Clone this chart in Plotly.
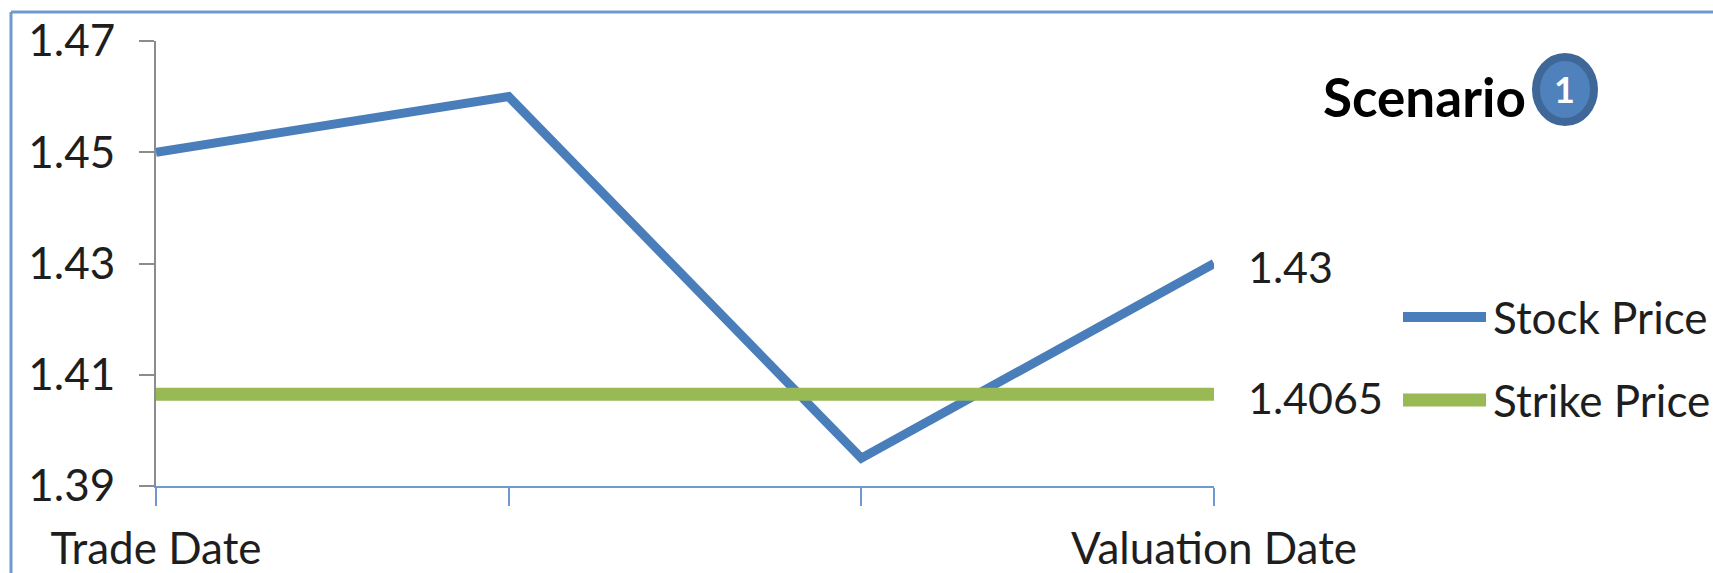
import plotly.graph_objects as go

W, H = 1713, 573
L, R, T, B = 156, 1214, 41, 486

positions = [0, 1, 2, 3]
x_labels = ["Trade Date", "", "", "Valuation Date"]
stock_price = [1.45, 1.46, 1.395, 1.43]
strike_price = [1.4065, 1.4065, 1.4065, 1.4065]
y_ticks = [1.39, 1.41, 1.43, 1.45, 1.47]
series_names = ["Stock Price", "Strike Price"]
title_text = "Scenario"
badge_text = "1"

BLUE = "#4A7EBB"
GREEN = "#98B954"
FRAME = "#6F9AD0"
INK = "#1E1E1E"
FONT = "Lato"
TEXT_SIZE = 44


def px(v):
    return (v - L) / (R - L)


def py(v):
    return (B - v) / (B - T)


fig = go.Figure()
fig.add_trace(go.Scatter(x=positions, y=stock_price, mode="lines", name=series_names[0],
                         line=dict(color=BLUE, width=9), cliponaxis=False))
fig.add_trace(go.Scatter(x=positions, y=strike_price, mode="lines", name=series_names[1],
                         line=dict(color=GREEN, width=13), cliponaxis=False))

shapes = [
    # outer chart frame, open towards the right and bottom edges
    dict(type="line", xref="paper", yref="paper", x0=px(11), x1=px(W), y0=py(12), y1=py(12),
         line=dict(color=FRAME, width=3)),
    dict(type="line", xref="paper", yref="paper", x0=px(11), x1=px(11), y0=py(12), y1=py(H),
         line=dict(color=FRAME, width=3)),
    # legend keys
    dict(type="line", xref="paper", yref="paper", x0=px(1403), x1=px(1486), y0=py(317), y1=py(317),
         line=dict(color=BLUE, width=10)),
    dict(type="line", xref="paper", yref="paper", x0=px(1403), x1=px(1486), y0=py(400), y1=py(400),
         line=dict(color=GREEN, width=13)),
    # numbered badge next to the heading
    dict(type="circle", xref="paper", yref="paper", x0=px(1536), x1=px(1594), y0=py(57), y1=py(122),
         fillcolor="#4F81BD", line=dict(color="#3F6797", width=8)),
]


def note(x, y, text, size=TEXT_SIZE, color=INK, xanchor="left"):
    return dict(xref="paper", yref="paper", x=px(x), y=py(y), text=text, showarrow=False,
                xanchor=xanchor, yanchor="middle", font=dict(size=size, color=color, family=FONT))


annotations = [
    dict(xref="x", yref="y", x=positions[-1], y=stock_price[-1], text=f"{stock_price[-1]:g}",
         showarrow=False, xanchor="left", yanchor="middle", xshift=32, yshift=-3,
         font=dict(size=43, color=INK, family=FONT)),
    dict(xref="x", yref="y", x=positions[-1], y=strike_price[-1], text=f"{strike_price[-1]:g}",
         showarrow=False, xanchor="left", yanchor="middle", xshift=32, yshift=-3,
         font=dict(size=43, color=INK, family=FONT)),
    note(1491, 317, series_names[0]),
    note(1491, 400, series_names[1]),
    note(1321, 97, f"<b>{title_text}</b>", size=53, color="#000000"),
    note(1564, 89, f"<b>{badge_text}</b>", size=36, color="#FFFFFF", xanchor="center"),
]

fig.update_layout(
    width=W, height=H, autosize=False,
    margin=dict(l=L, r=W - R, t=T, b=H - B, autoexpand=False),
    paper_bgcolor="white", plot_bgcolor="white",
    showlegend=False,
    shapes=shapes, annotations=annotations,
    font=dict(family=FONT, size=TEXT_SIZE, color=INK),
)
fig.update_xaxes(range=[0, 3], tickmode="array", tickvals=positions, ticktext=x_labels,
                 showgrid=False, zeroline=False, showline=True, linecolor=FRAME, linewidth=2,
                 ticks="outside", ticklen=18, tickwidth=2, tickcolor=FRAME, ticklabelstandoff=5)
fig.update_yaxes(range=[1.39, 1.47], tickmode="array", tickvals=y_ticks,
                 ticktext=[f"{v:.2f}" for v in y_ticks],
                 showgrid=False, zeroline=False, showline=True, linecolor="#8C8C8C", linewidth=2,
                 ticks="outside", ticklen=15, tickwidth=2, tickcolor="#8C8C8C", ticklabelstandoff=15)

fig.write_html("out.html", config=dict(displayModeBar=False))
